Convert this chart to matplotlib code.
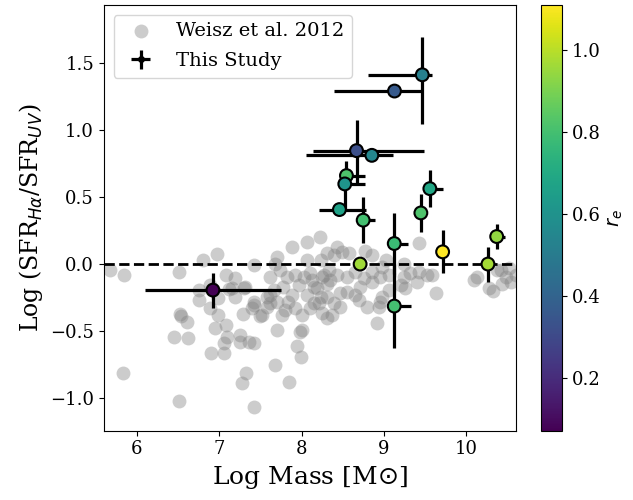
import numpy as np
import matplotlib
matplotlib.use("Agg")
import matplotlib.pyplot as plt

plt.rcParams['font.family'] = 'DejaVu Serif'

# Weisz et al. 2012 sample (log mass, log SFR ratio)
weisz_mass = [5.67, 5.85, 5.83, 6.515, 6.515, 6.80, 6.97, 6.527, 6.535, 6.61,
              6.454, 6.616, 6.90, 7.062, 7.33, 7.277, 7.426, 7.68, 7.843, 7.997,
              7.945, 7.977, 7.70, 6.952, 7.078, 7.094, 7.054, 7.256, 7.248, 7.357,
              7.426, 6.99, 6.89, 7.078, 7.195, 7.114, 7.195, 7.305, 6.75, 6.75,
              6.89, 6.99, 7.284, 7.398, 7.426, 7.52, 7.426, 7.58, 7.62, 7.155,
              7.317, 7.50, 7.418, 7.70, 7.68, 7.62, 7.70, 7.80, 7.66, 7.884,
              8.067, 7.823, 7.924, 7.78, 7.884, 7.965, 8.025, 8.127, 8.19, 8.27,
              8.31, 8.207, 7.924, 8.25, 8.31, 8.43, 8.57, 8.39, 8.49, 8.775,
              8.856, 9.42, 8.067, 8.23, 8.107, 8.25, 8.147, 8.33, 8.35, 8.43,
              8.55, 8.653, 8.754, 8.856, 8.978, 8.957, 9.058, 9.24, 9.32, 9.42,
              9.40, 9.525, 9.585, 9.625, 9.20, 9.24, 9.058, 8.978, 8.957, 8.795,
              8.694, 8.653, 8.55, 8.47, 8.39, 8.37, 8.47, 8.937, 8.917, 8.006,
              10.09, 10.13, 10.27, 10.415, 10.476, 10.436, 10.537, 10.516, 10.6, 10.375,
              10.32, 7.74, 7.84, 8.07, 8.107, 8.006, 8.31, 8.31, 7.62, 7.58,
              7.76, 8.147, 8.23, 8.714, 8.856, 9.26, 9.018, 8.22]
weisz_ratio = [-0.045, -0.08, -0.81, -0.058, -1.02, 0.03, 0.074, -0.37, -0.39, -0.43,
               -0.54, -0.553, -0.665, -0.665, -0.814, -0.884, -1.063, -0.752, -0.876, -0.69,
               -0.608, -0.504, -0.49, -0.479, -0.457, -0.54, -0.59, -0.53, -0.58, -0.58,
               -0.586, -0.38, -0.33, -0.083, -0.107, -0.189, -0.249, -0.182, -0.268, -0.194,
               -0.157, -0.256, -0.373, -0.33, -0.281, -0.38, -0.008, -0.245, -0.293, -0.182,
               -0.17, -0.39, -0.306, 0.054, 0.004, -0.23, -0.28, -0.343, -0.194, 0.128,
               0.165, -0.095, -0.083, -0.17, -0.23, -0.157, -0.095, -0.12, -0.182, -0.083,
               0.079, -0.293, -0.33, -0.368, -0.405, 0.128, 0.083, 0.066, 0.09, 0.10,
               0.066, 0.158, 0.03, 0.03, -0.07, -0.095, -0.17, -0.045, -0.12, -0.083,
               -0.095, -0.058, -0.107, -0.058, -0.02, -0.095, -0.083, 0.0, -0.07, -0.058,
               -0.132, -0.083, -0.083, -0.219, -0.157, -0.095, -0.194, -0.244, -0.28, -0.318,
               -0.268, -0.23, -0.207, -0.219, -0.293, -0.38, -0.318, -0.318, -0.442, -0.49,
               -0.12, -0.095, -0.182, -0.045, -0.095, -0.145, -0.132, -0.033, -0.083, -0.045,
               -0.20, -0.045, -0.28, -0.23, -0.33, -0.38, -0.245, -0.145, -0.095, -0.318,
               -0.38, -0.293, -0.245, -0.17, -0.132, -0.18, 0.03, 0.20]

# this study
study_mass = [9.464, 9.127, 8.666, 8.852, 8.544, 8.524, 8.459, 9.556, 9.447,
              8.747, 9.124, 9.124, 8.71, 9.711, 10.261, 10.367, 6.924]
study_ratio = [1.41, 1.289, 0.845, 0.81, 0.659, 0.597, 0.406, 0.562, 0.381,
               0.327, 0.153, -0.313, 0.0, 0.091, 0.0, 0.205, -0.194]
mass_err_lo = [0.66, 0.73, 0.53, 0.80, 0.0, 0.0, 0.25, 0.07, 0.0,
               0.0, 0.0, 0.0, 0.0, 0.0, 0.0, 0.05, 0.83]
mass_err_hi = [0.12, 0.32, 0.82, 0.26, 0.23, 0.25, 0.32, 0.16, 0.0,
               0.14, 0.17, 0.20, 0.0, 0.0, 0.0, 0.10, 0.82]
ratio_err_lo = [0.37, 0.0, 0.24, 0.0, 0.05, 0.19, 0.0, 0.14, 0.14,
                0.17, 0.23, 0.31, 0.0, 0.16, 0.13, 0.09, 0.13]
ratio_err_hi = [0.28, 0.0, 0.23, 0.0, 0.11, 0.05, 0.0, 0.14, 0.14,
                0.17, 0.23, 0.31, 0.0, 0.16, 0.13, 0.09, 0.13]
r_e = [0.52, 0.36, 0.32, 0.55, 0.82, 0.61, 0.67, 0.69, 0.82,
       0.80, 0.78, 0.80, 0.96, 1.11, 0.97, 0.94, 0.07]

fig = plt.figure(figsize=(6.33, 5), dpi=100)
ax = fig.add_axes([0.164, 0.139, 0.651, 0.851])
cax = fig.add_axes([0.855, 0.138, 0.033, 0.852])

ax.scatter(weisz_mass, weisz_ratio, s=100, color='gray', alpha=0.4,
           linewidths=0, label='Weisz et al. 2012', zorder=1)
ax.axhline(0, color='k', ls='--', lw=2, zorder=2)

ax.errorbar(study_mass, study_ratio,
            xerr=[mass_err_lo, mass_err_hi], yerr=[ratio_err_lo, ratio_err_hi],
            fmt='o', ms=4, color='k', elinewidth=2.3, capsize=0,
            label='This Study', zorder=3)
sc = ax.scatter(study_mass, study_ratio, c=r_e, cmap='viridis', vmin=0.07, vmax=1.11,
                s=85, edgecolors='k', linewidths=1.5, zorder=4)

ax.set_xlim(5.6, 10.6)
ax.set_ylim(-1.24, 1.93)
ax.set_yticks([-1.0, -0.5, 0.0, 0.5, 1.0, 1.5])
ax.tick_params(labelsize=13)
ax.set_xlabel(r'Log Mass [M$\odot$]', fontsize=18)
ax.set_ylabel(r'Log (SFR$_{H\alpha}$/SFR$_{UV}$)', fontsize=17)
ax.legend(loc='upper left', fontsize=14, labelspacing=0.6)

cb = fig.colorbar(sc, cax=cax)
cb.set_ticks([0.2, 0.4, 0.6, 0.8, 1.0])
cb.ax.tick_params(labelsize=13)
cb.set_label(r'$r_e$', fontsize=14)

fig.savefig('out.png', dpi=100)
